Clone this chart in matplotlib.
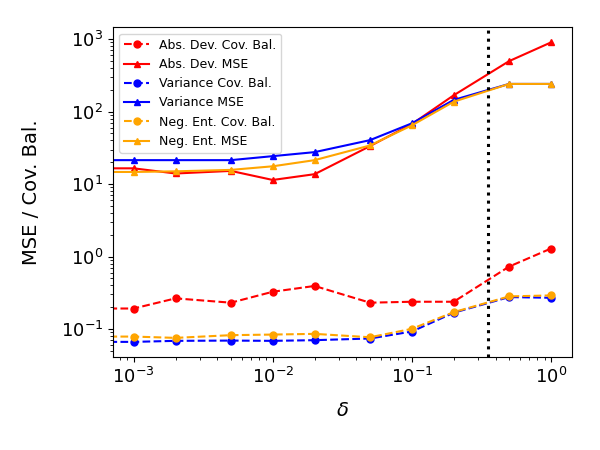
import numpy as np
import matplotlib
matplotlib.use("Agg")
import matplotlib.pyplot as plt

delta = [0.0, 1e-3, 2e-3, 5e-3, 1e-2, 2e-2, 5e-2, 1e-1, 2e-1, 5e-1, 1.0]

absdev_bal = [0.192, 0.192, 0.265, 0.231, 0.327, 0.393, 0.231, 0.238, 0.238, 0.727, 1.29]
absdev_mse = [16.5, 16.5, 14.0, 15.2, 11.4, 13.7, 33.4, 67.3, 168, 497, 901]
var_bal = [0.0665, 0.0665, 0.0687, 0.0693, 0.0687, 0.0702, 0.074, 0.0924, 0.168, 0.276, 0.270]
var_mse = [21.4, 21.4, 21.4, 21.4, 24.3, 27.6, 40.4, 68.9, 145, 241, 241]
negent_bal = [0.0787, 0.0787, 0.0755, 0.0823, 0.0839, 0.0858, 0.077, 0.1006, 0.171, 0.282, 0.291]
negent_mse = [14.7, 14.7, 15.0, 15.7, 17.6, 21.4, 34.1, 64.6, 137, 241, 241]

threshold = 0.35

fig = plt.figure(figsize=(6, 4.5), dpi=100)
ax = fig.add_axes([0.188, 0.207, 0.765, 0.732])

ms = 5
ax.plot(delta, absdev_bal, '--o', color='red', ms=ms, label='Abs. Dev. Cov. Bal.')
ax.plot(delta, absdev_mse, '-^', color='red', ms=ms, label='Abs. Dev. MSE')
ax.plot(delta, var_bal, '--o', color='blue', ms=ms, label='Variance Cov. Bal.')
ax.plot(delta, var_mse, '-^', color='blue', ms=ms, label='Variance MSE')
ax.plot(delta, negent_bal, '--o', color='orange', ms=ms, label='Neg. Ent. Cov. Bal.')
ax.plot(delta, negent_mse, '-^', color='orange', ms=ms, label='Neg. Ent. MSE')
ax.set_xscale('log')
ax.set_yscale('log')
ax.axvline(threshold, color='black', linestyle=':', linewidth=2.2)

ax.set_xlabel(r'$\delta$', fontsize=14, labelpad=10)
ax.set_ylabel('MSE / Cov. Bal.', fontsize=14, labelpad=14)
ax.tick_params(axis='both', which='major', labelsize=13)
ax.legend(loc='upper left', fontsize=9)

fig.savefig('out.png', dpi=100)
